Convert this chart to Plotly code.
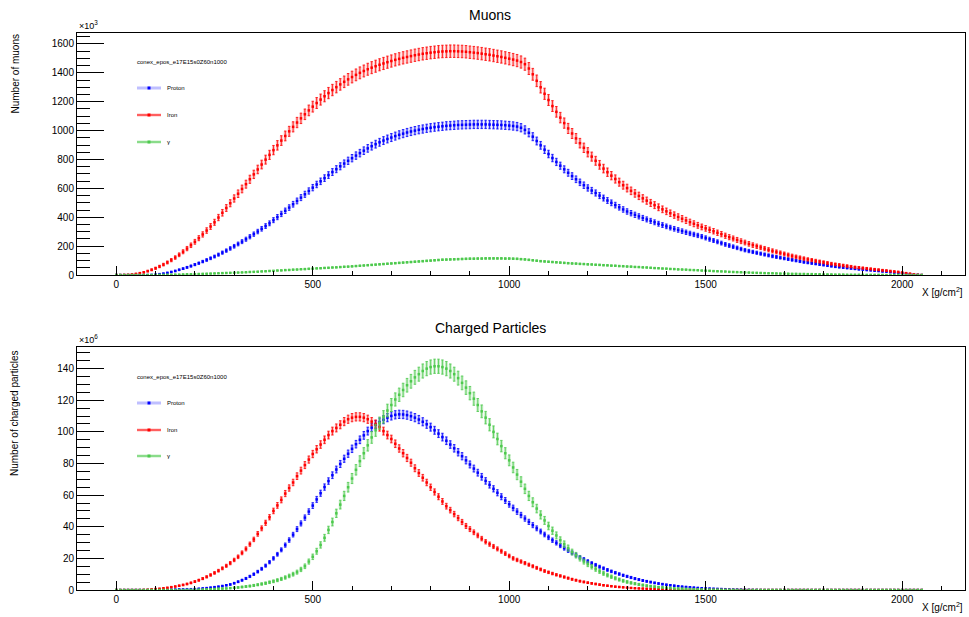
import numpy as np
import plotly.graph_objects as go

# ---------------- data ----------------
X_DEPTH = list(range(0, 2060, 10))  # slant depth bins [g/cm^2]

# Muons (x10^3)
MU_PROTON = [
    0, 0, 0, 0, 0, 0, 0, 0, 0, 1,
    3, 6, 10, 15, 21, 28, 36, 44, 53, 62,
    72, 82, 93, 104, 116, 128, 141, 155, 169, 184,
    199, 215, 231, 248, 265, 283, 301, 320, 339, 358,
    380, 401, 423, 445, 467, 490, 513, 536, 559, 582,
    605, 627, 649, 671, 692, 713, 733, 753, 772, 791,
    809, 827, 844, 861, 877, 892, 906, 919, 931, 942,
    952, 962, 971, 979, 987, 994, 1000, 1006, 1011, 1016,
    1020, 1024, 1027, 1030, 1033, 1035, 1037, 1039, 1040, 1041,
    1042, 1043, 1043, 1043, 1043, 1042, 1041, 1040, 1039, 1037,
    1035, 1032, 1028, 1020, 1005, 985, 958, 928, 898, 868,
    838, 810, 783, 757, 732, 708, 685, 663, 642, 622,
    603, 585, 568, 550, 533, 516, 500, 484, 469, 454,
    440, 428, 417, 406, 395, 385, 375, 365, 355, 346,
    337, 328, 320, 312, 304, 296, 288, 281, 274, 266,
    257, 248, 239, 230, 221, 212, 204, 196, 188, 180,
    172, 166, 160, 154, 148, 142, 136, 130, 125, 120,
    115, 110, 105, 100, 95, 90, 86, 82, 78, 74,
    70, 66, 62, 58, 55, 52, 49, 46, 43, 40,
    38, 35, 33, 30, 28, 25, 23, 20, 17, 14,
    12, 9, 6, 4, 2, 0,
]
MU_IRON = [
    0, 0, 1, 2, 4, 8, 13, 19, 27, 36,
    47, 59, 72, 87, 103, 121, 140, 161, 183, 206,
    230, 255, 281, 308, 336, 365, 398, 431, 464, 497,
    530, 563, 596, 629, 663, 697, 731, 765, 799, 832,
    865, 898, 931, 963, 995, 1026, 1056, 1085, 1113, 1140,
    1166, 1191, 1215, 1238, 1260, 1281, 1301, 1320, 1338, 1355,
    1371, 1386, 1400, 1413, 1425, 1436, 1446, 1456, 1465, 1474,
    1482, 1490, 1497, 1504, 1510, 1516, 1522, 1527, 1532, 1536,
    1540, 1543, 1546, 1548, 1549, 1550, 1550, 1549, 1548, 1546,
    1543, 1540, 1537, 1533, 1529, 1525, 1520, 1515, 1510, 1504,
    1498, 1492, 1485, 1475, 1460, 1430, 1390, 1345, 1300, 1255,
    1212, 1170, 1130, 1090, 1052, 1015, 980, 946, 913, 881,
    850, 820, 791, 763, 737, 712, 688, 665, 643, 622,
    602, 583, 565, 548, 531, 515, 499, 484, 469, 455,
    441, 428, 415, 402, 390, 378, 366, 355, 344, 333,
    323, 313, 303, 293, 283, 272, 262, 253, 243, 234,
    225, 216, 207, 199, 191, 183, 175, 167, 160, 153,
    146, 139, 132, 126, 120, 114, 108, 103, 98, 93,
    88, 83, 78, 74, 70, 66, 62, 58, 54, 51,
    48, 45, 42, 39, 36, 33, 30, 27, 24, 21,
    17, 13, 9, 5, 2, 0,
]
MU_GAMMA = [
    0, 0, 0, 0, 0, 0, 0, 0, 0, 0,
    0, 1, 1, 2, 2, 3, 3, 4, 5, 5,
    6, 7, 8, 9, 10, 11, 12, 13, 14, 15,
    16, 17, 18, 19, 21, 22, 23, 25, 26, 28,
    29, 31, 32, 34, 35, 37, 38, 40, 41, 43,
    44, 46, 47, 49, 50, 52, 53, 55, 57, 58,
    60, 62, 64, 66, 68, 70, 72, 74, 76, 78,
    80, 82, 84, 86, 88, 90, 92, 94, 96, 98,
    100, 102, 104, 106, 107, 108, 109, 110, 111, 112,
    113, 113, 114, 114, 115, 115, 115, 115, 115, 114,
    114, 113, 112, 110, 108, 105, 102, 99, 96, 94,
    92, 90, 88, 86, 84, 82, 80, 79, 77, 76,
    74, 73, 71, 70, 68, 67, 65, 64, 62, 61,
    59, 58, 56, 55, 53, 52, 50, 48, 47, 45,
    44, 42, 41, 39, 38, 37, 35, 34, 33, 31,
    30, 29, 27, 26, 25, 24, 22, 21, 20, 19,
    18, 17, 16, 15, 14, 13, 12, 12, 11, 10,
    10, 9, 8, 8, 7, 7, 6, 6, 5, 5,
    4, 4, 4, 3, 3, 3, 2, 2, 2, 2,
    1, 1, 1, 1, 1, 1, 0, 0, 0, 0,
    0, 0, 0, 0, 0, 0,
]

# Charged particles (x10^6)
CH_PROTON = [
    0, 0, 0, 0, 0, 0, 0, 0, 0, 0,
    0, 0, 0, 0.1, 0.2, 0.3, 0.4, 0.4, 0.5, 0.5,
    0.6, 0.8, 1.0, 1.2, 1.5, 1.8, 2.1, 2.5, 3.0, 3.5,
    4.3, 5.2, 6.2, 7.3, 8.6, 10.0, 11.6, 13.4, 15.4, 17.6,
    20.0, 22.6, 25.4, 28.4, 31.6, 35.0, 38.5, 42.1, 45.8, 49.6,
    53.4, 57.3, 61.2, 65.1, 68.9, 72.6, 76.2, 79.7, 83.0, 86.2,
    89.3, 92.2, 95.0, 97.8, 100.5, 102.7, 104.6, 106.2, 107.7, 109.0,
    110.1, 110.8, 111.1, 111.0, 110.6, 109.9, 109.0, 107.8, 106.4, 104.8,
    103.0, 101.0, 98.9, 96.7, 94.4, 92.0, 89.6, 87.1, 84.6, 82.0,
    79.4, 76.8, 74.2, 71.6, 69.0, 66.5, 64.0, 61.5, 59.0, 56.6,
    54.2, 51.9, 49.6, 47.4, 45.2, 43.1, 41.0, 39.0, 37.0, 35.1,
    33.3, 31.5, 29.8, 28.1, 26.5, 25.0, 23.5, 22.1, 20.7, 19.4,
    18.1, 16.9, 15.8, 14.7, 13.7, 12.7, 11.8, 10.9, 10.1, 9.3,
    8.6, 7.9, 7.2, 6.6, 6.0, 5.5, 5.0, 4.5, 4.1, 3.7,
    3.3, 3.0, 2.7, 2.4, 2.1, 1.9, 1.7, 1.5, 1.3, 1.1,
    1.0, 0.9, 0.8, 0.7, 0.6, 0.5, 0.4, 0.35, 0.3, 0.25,
    0.2, 0.15, 0.1, 0.1, 0.05, 0, 0, 0, 0, 0,
    0, 0, 0, 0, 0, 0, 0, 0, 0, 0,
    0, 0, 0, 0, 0, 0, 0, 0, 0, 0,
    0, 0, 0, 0, 0, 0, 0, 0, 0, 0,
    0, 0, 0, 0, 0, 0,
]
CH_IRON = [
    0, 0, 0, 0, 0, 0, 0, 0.1, 0.2, 0.4,
    0.6, 0.8, 1.1, 1.4, 1.8, 2.2, 2.7, 3.2, 3.8, 4.5,
    5.3, 6.2, 7.2, 8.3, 9.5, 10.8, 12.2, 13.7, 15.3, 17.0,
    19.0, 21.0, 23.5, 26.0, 29.0, 32.0, 35.5, 39.0, 42.5, 46.0,
    50.0, 53.5, 57.0, 61.0, 64.5, 68.0, 72.0, 75.5, 79.0, 82.5,
    86.0, 89.0, 92.0, 95.0, 98.0, 100.5, 102.5, 104.5, 106.5, 108.0,
    109.0, 109.5, 109.5, 109.0, 108.0, 106.5, 105.0, 103.0, 100.5, 98.0,
    95.5, 92.5, 89.5, 86.5, 83.5, 80.5, 77.0, 74.0, 71.0, 68.0,
    65.0, 62.0, 59.0, 56.0, 53.0, 50.5, 48.0, 45.5, 43.0, 40.5,
    38.5, 36.5, 34.5, 32.5, 30.5, 29.0, 27.5, 26.0, 24.5, 23.0,
    21.5, 20.0, 19.0, 18.0, 17.0, 16.0, 15.0, 14.0, 13.0, 12.0,
    11.2, 10.4, 9.6, 8.9, 8.2, 7.5, 6.8, 6.2, 5.6, 5.1,
    4.6, 4.2, 3.8, 3.4, 3.0, 2.7, 2.4, 2.1, 1.9, 1.7,
    1.5, 1.3, 1.1, 1.0, 0.9, 0.8, 0.7, 0.6, 0.5, 0.4,
    0.35, 0.3, 0.25, 0.2, 0.15, 0.1, 0.1, 0.05, 0.05, 0,
    0, 0, 0, 0, 0, 0, 0, 0, 0, 0,
    0, 0, 0, 0, 0, 0, 0, 0, 0, 0,
    0, 0, 0, 0, 0, 0, 0, 0, 0, 0,
    0, 0, 0, 0, 0, 0, 0, 0, 0, 0,
    0, 0, 0, 0, 0, 0, 0, 0, 0, 0,
    0, 0, 0, 0, 0, 0,
]
CH_GAMMA = [
    0, 0, 0, 0, 0, 0, 0, 0, 0, 0,
    0, 0, 0, 0, 0, 0, 0, 0, 0.1, 0.1,
    0.2, 0.2, 0.3, 0.4, 0.5, 0.6, 0.8, 0.9, 1.0, 1.2,
    1.4, 1.6, 1.9, 2.2, 2.5, 2.9, 3.3, 3.8, 4.3, 4.9,
    5.5, 6.2, 7.0, 7.9, 8.9, 10.0, 11.3, 13.0, 15.0, 18.0,
    21.0, 24.5, 28.5, 33.0, 38.0, 43.0, 48.5, 54.0, 59.5, 65.0,
    70.5, 76.0, 81.5, 86.5, 91.5, 96.5, 101.0, 105.5, 109.5, 113.5,
    117.0, 120.5, 123.5, 126.5, 129.5, 132.0, 134.5, 136.5, 138.5, 140.0,
    141.0, 141.5, 141.5, 141.0, 140.0, 138.5, 136.5, 134.0, 131.0, 128.0,
    124.5, 121.0, 117.0, 113.0, 109.0, 104.5, 100.0, 95.5, 91.0, 86.5,
    82.0, 77.5, 73.0, 68.5, 64.0, 59.5, 55.5, 51.5, 47.5, 44.0,
    40.5, 37.5, 34.5, 31.5, 29.0, 26.5, 24.0, 22.0, 20.0, 18.0,
    16.3, 14.7, 13.2, 11.8, 10.5, 9.4, 8.4, 7.4, 6.6, 5.8,
    5.1, 4.5, 4.0, 3.5, 3.1, 2.7, 2.4, 2.1, 1.8, 1.6,
    1.4, 1.2, 1.0, 0.9, 0.8, 0.7, 0.6, 0.5, 0.4, 0.35,
    0.3, 0.25, 0.2, 0.2, 0.15, 0.1, 0.1, 0.1, 0.05, 0,
    0, 0, 0, 0, 0, 0, 0, 0, 0, 0,
    0, 0, 0, 0, 0, 0, 0, 0, 0, 0,
    0, 0, 0, 0, 0, 0, 0, 0, 0, 0,
    0, 0, 0, 0, 0, 0, 0, 0, 0, 0,
    0, 0, 0, 0, 0, 0,
]

# statistical error scale (error ~ k * sqrt(value))
MU_ERR_K = {"Proton": 0.9, "Iron": 1.1, "γ": 0.4}
CH_ERR_K = {"Proton": 0.25, "Iron": 0.25, "γ": 0.38}

SERIES_NAMES = ["Proton", "Iron", "γ"]
COLORS = {"Proton": "#0000ff", "Iron": "#ff0000", "γ": "#4dc94d"}
SHADES = {"Proton": "rgba(0,0,255,0.25)", "Iron": "rgba(255,0,0,0.25)", "γ": "rgba(77,201,77,0.3)"}

LEGEND_HEADER = "conex_epos_e17E15s0Z60n1000"
FONT = "Liberation Sans, Arial, Helvetica, sans-serif"

# ---------------- figure ----------------
fig = go.Figure()

panels = [
    ("x", "y", {"Proton": MU_PROTON, "Iron": MU_IRON, "γ": MU_GAMMA}, MU_ERR_K),
    ("x2", "y2", {"Proton": CH_PROTON, "Iron": CH_IRON, "γ": CH_GAMMA}, CH_ERR_K),
]
for xa, ya, data, kdict in panels:
    for name in SERIES_NAMES:
        vals = data[name]
        errs = [kdict[name] * np.sqrt(v) for v in vals]
        # light error band
        fig.add_trace(go.Scatter(
            x=X_DEPTH, y=vals, xaxis=xa, yaxis=ya, mode="markers",
            marker=dict(size=1, color="rgba(0,0,0,0)"),
            error_y=dict(type="data", array=errs, visible=True, thickness=3,
                         width=0, color=SHADES[name]),
            showlegend=False, hoverinfo="skip"))
        # points with thin error bars
        fig.add_trace(go.Scatter(
            x=X_DEPTH, y=vals, xaxis=xa, yaxis=ya, mode="markers", name=name,
            marker=dict(symbol="square", size=2.5, color=COLORS[name], line=dict(width=0)),
            error_y=dict(type="data", array=errs, visible=True, thickness=0.8,
                         width=1.2, color=COLORS[name]),
            showlegend=False))

axis_common = dict(
    showline=True, linecolor="#000", linewidth=1, mirror=True,
    ticks="inside", tickcolor="#000", tickwidth=1,
    showgrid=False, zeroline=False,
    tickfont=dict(family=FONT, size=10, color="#000"),
)
xaxis_style = dict(axis_common, range=[-100, 2160], tick0=0, dtick=500, ticklen=9,
                   minor=dict(ticks="inside", ticklen=4, tick0=0, dtick=100,
                              tickcolor="#000", tickwidth=1, showgrid=False))

fig.update_layout(
    width=969, height=617,
    margin=dict(l=77, r=4, t=33, b=27),
    paper_bgcolor="white", plot_bgcolor="white",
    font=dict(family=FONT, color="#000"),
    xaxis=dict(xaxis_style, domain=[0, 1], anchor="y"),
    xaxis2=dict(xaxis_style, domain=[0, 1], anchor="y2"),
    yaxis=dict(axis_common, domain=[0.5655, 1], anchor="x", range=[0, 1676],
               tick0=0, dtick=200, ticklen=27,
               minor=dict(ticks="inside", ticklen=13, tick0=0, dtick=50,
                          tickcolor="#000", tickwidth=1, showgrid=False)),
    yaxis2=dict(axis_common, domain=[0, 0.4363], anchor="x2", range=[0, 153.7],
                tick0=0, dtick=20, ticklen=27,
                minor=dict(ticks="inside", ticklen=13, tick0=0, dtick=5,
                           tickcolor="#000", tickwidth=1, showgrid=False)),
    showlegend=False,
)

W, H = 888.0, 557.0


def px(xp):
    return (xp - 77) / W


def py(yp):
    return (590 - yp) / H


ann = []
# titles
ann.append(dict(text="Muons", x=px(490), y=py(15), xref="paper", yref="paper",
                showarrow=False, font=dict(size=14, family=FONT), xanchor="center", yanchor="middle"))
ann.append(dict(text="Charged Particles", x=px(490), y=py(328), xref="paper", yref="paper",
                showarrow=False, font=dict(size=14, family=FONT), xanchor="center", yanchor="middle"))
# y titles
ann.append(dict(text="Number of muons", x=px(15), y=py(33), xref="paper", yref="paper",
                showarrow=False, textangle=-90, font=dict(size=10, family=FONT),
                xanchor="center", yanchor="top"))
ann.append(dict(text="Number of charged particles", x=px(14), y=py(348), xref="paper", yref="paper",
                showarrow=False, textangle=-90, font=dict(size=10, family=FONT),
                xanchor="center", yanchor="top"))
# x titles
for yy in (292, 607):
    ann.append(dict(text="X [g/cm<sup>2</sup>]", x=1.0, y=py(yy), xref="paper", yref="paper",
                    showarrow=False, font=dict(size=10, family=FONT), xanchor="right", yanchor="middle"))
# exponents
ann.append(dict(text="×10<sup>3</sup>", x=px(77), y=py(33), xref="paper", yref="paper",
                showarrow=False, font=dict(size=9, family=FONT), xanchor="left", yanchor="bottom"))
ann.append(dict(text="×10<sup>6</sup>", x=px(77), y=py(347), xref="paper", yref="paper",
                showarrow=False, font=dict(size=9, family=FONT), xanchor="left", yanchor="bottom"))

shapes = []
for header_y, entry_ys in ((62, (88, 115, 142)), (377, (403, 430, 456))):
    ann.append(dict(text=LEGEND_HEADER, x=px(135), y=py(header_y), xref="paper", yref="paper",
                    showarrow=False, font=dict(size=6, family=FONT), xanchor="left", yanchor="middle"))
    for name, ey in zip(SERIES_NAMES, entry_ys):
        shapes.append(dict(type="line", xref="paper", yref="paper", x0=px(137), x1=px(161),
                           y0=py(ey), y1=py(ey), line=dict(color=SHADES[name], width=3)))
        if name != "Proton":
            shapes.append(dict(type="line", xref="paper", yref="paper", x0=px(137), x1=px(161),
                               y0=py(ey), y1=py(ey), line=dict(color=COLORS[name], width=1)))
        shapes.append(dict(type="rect", xref="paper", yref="paper",
                           x0=px(147.5), x1=px(150.5), y0=py(ey + 1.5), y1=py(ey - 1.5),
                           line=dict(width=0), fillcolor=COLORS[name]))
        ann.append(dict(text=name, x=px(165), y=py(ey), xref="paper", yref="paper",
                        showarrow=False, font=dict(size=6, family=FONT), xanchor="left", yanchor="middle"))

fig.update_layout(annotations=ann, shapes=shapes)

fig.write_html("out.html")
